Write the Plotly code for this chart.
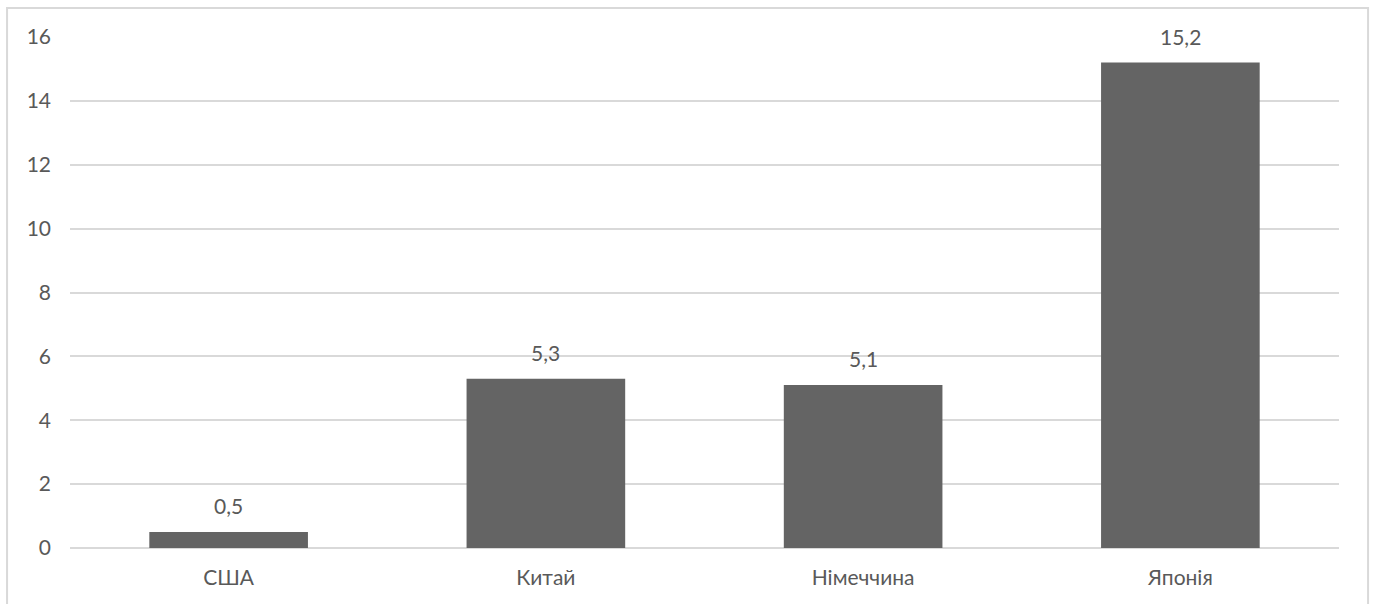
import plotly.graph_objects as go

# Chart data
countries = ["США", "Китай", "Німеччина", "Японія"]
values = [0.5, 5.3, 5.1, 15.2]
y_ticks = [0, 2, 4, 6, 8, 10, 12, 14, 16]

TEXT = "#595959"
GRID = "#d9d9d9"
FONT = "Lato, Open Sans, sans-serif"
FSIZE = 21

fig = go.Figure()
fig.add_trace(go.Bar(
    x=countries,
    y=values,
    width=0.5,
    marker=dict(color="#646464", line=dict(width=0)),
    hoverinfo="x+y",
))

# value labels above each bar, decimal comma
annotations = [
    dict(x=c, y=v, text=f"{v:.1f}".replace(".", ","), showarrow=False,
         xref="x", yref="y", yanchor="bottom", yshift=12,
         font=dict(size=FSIZE, color=TEXT, family=FONT))
    for c, v in zip(countries, values)
]

fig.update_layout(
    width=1375, height=604,
    margin=dict(l=70, r=36, t=37, b=56),
    paper_bgcolor="white", plot_bgcolor="white",
    showlegend=False,
    font=dict(family=FONT, size=FSIZE, color=TEXT),
    bargap=0.5,
    annotations=annotations,
    shapes=[dict(type="rect", xref="paper", yref="paper",
                 x0=-0.0496, x1=1.0229, y0=-0.2, y1=1.0568,
                 line=dict(color=GRID, width=2), layer="below")],
    xaxis=dict(showgrid=False, showline=False, ticks="",
               ticklabelstandoff=15,
               tickfont=dict(size=FSIZE, color=TEXT, family=FONT)),
    yaxis=dict(range=[0, 16], tickvals=y_ticks, showgrid=True,
               gridcolor=GRID, gridwidth=1.5, zeroline=True,
               zerolinecolor=GRID, zerolinewidth=1.5, showline=False,
               ticks="", ticklabelstandoff=18,
               tickfont=dict(size=FSIZE, color=TEXT, family=FONT)),
)

fig.write_html("out.html")
